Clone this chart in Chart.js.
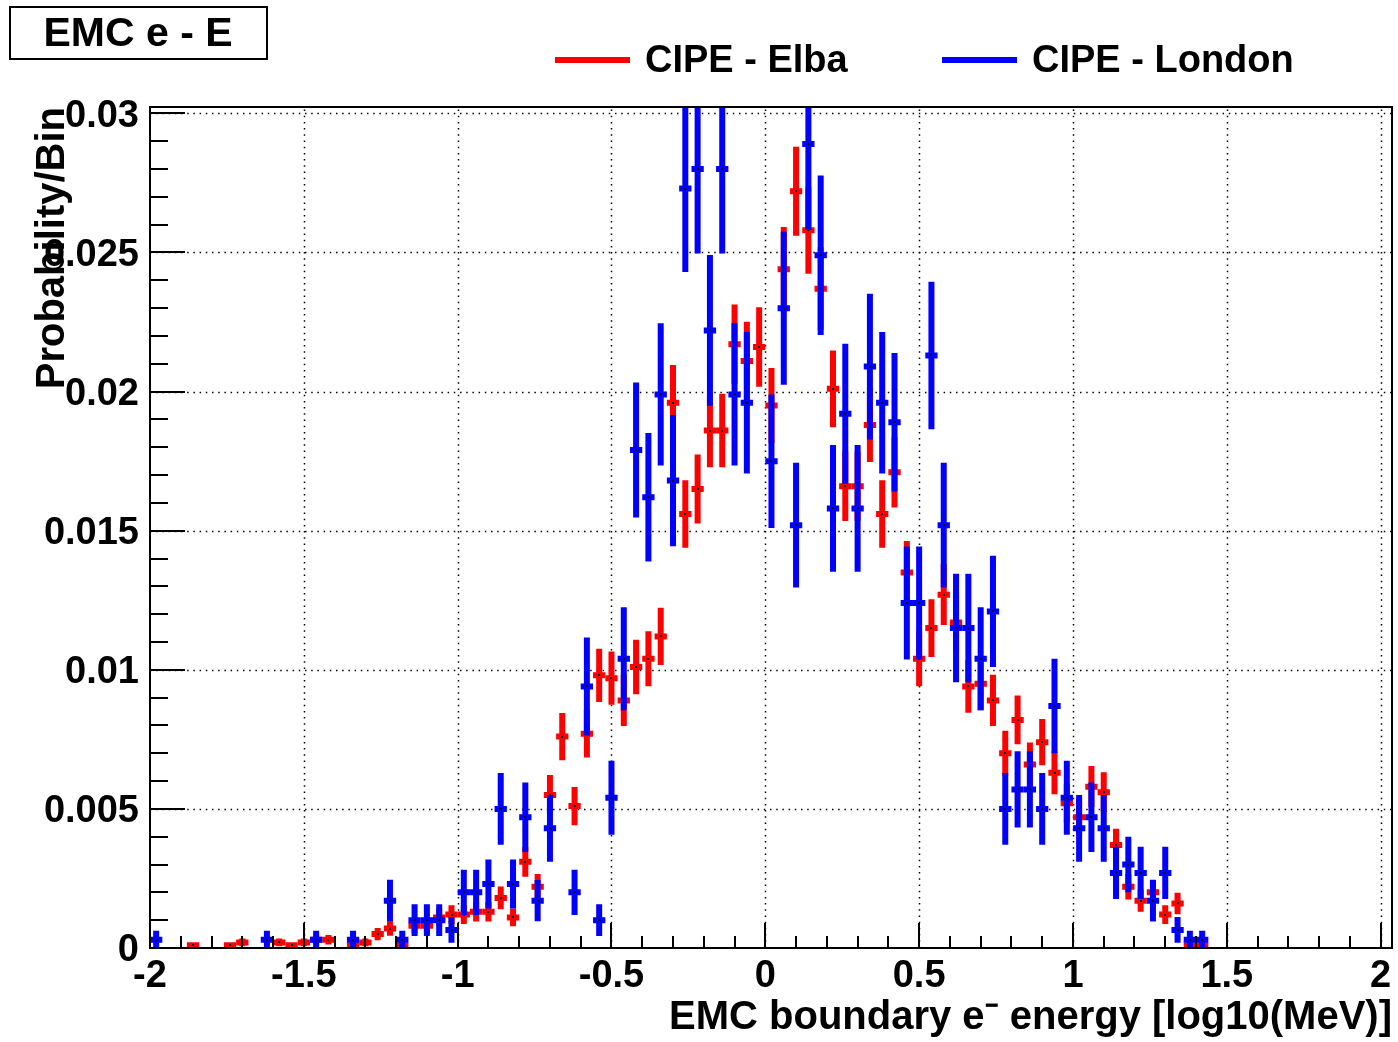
<!DOCTYPE html>
<html>
<head>
<meta charset="utf-8">
<script src="https://cdn.jsdelivr.net/npm/chart.js@4.4.1/dist/chart.umd.min.js"></script>
<style>
html,body{margin:0;padding:0;background:#ffffff;}
#wrap{width:1398px;height:1042px;}
</style>
</head>
<body>
<div id="wrap"><canvas id="c" width="1398" height="1042"></canvas></div>
<script>
// ---- categories: bin centres (100 bins of width 0.04 from -2 to 2) ----
const binCenters = [
-1.98,-1.94,-1.90,-1.86,-1.82,-1.78,-1.74,-1.70,-1.66,-1.62,
-1.58,-1.54,-1.50,-1.46,-1.42,-1.38,-1.34,-1.30,-1.26,-1.22,
-1.18,-1.14,-1.10,-1.06,-1.02,-0.98,-0.94,-0.90,-0.86,-0.82,
-0.78,-0.74,-0.70,-0.66,-0.62,-0.58,-0.54,-0.50,-0.46,-0.42,
-0.38,-0.34,-0.30,-0.26,-0.22,-0.18,-0.14,-0.10,-0.06,-0.02,
0.02,0.06,0.10,0.14,0.18,0.22,0.26,0.30,0.34,0.38,
0.42,0.46,0.50,0.54,0.58,0.62,0.66,0.70,0.74,0.78,
0.82,0.86,0.90,0.94,0.98,1.02,1.06,1.10,1.14,1.18,
1.22,1.26,1.30,1.34,1.38,1.42,1.46,1.50,1.54,1.58,
1.62,1.66,1.70,1.74,1.78,1.82,1.86,1.90,1.94,1.98];
const binHalfWidth = 0.02;

// ---- series: CIPE - Elba ----
const elbaValues = [
null,null,null,0.0001,null,null,0.0001,0.0002,null,null,
0.0002,0.0001,0.0002,0.0003,0.0003,null,0.0001,0.0002,0.0005,0.0007,
0.0001,0.0008,0.0008,0.0011,0.0012,0.0012,0.0013,0.0013,0.0018,0.0011,
0.0031,0.0022,0.0055,0.0076,0.0051,0.0077,0.0098,0.0097,0.0089,0.0101,
0.0104,0.0112,0.0196,0.0156,0.0165,0.0186,0.0186,0.0217,0.0211,0.0216,
0.0195,0.0244,0.0272,0.0258,0.0237,0.0201,0.0166,0.0166,0.0188,0.0156,
0.0171,0.0135,0.0104,0.0115,0.0127,0.0117,0.0094,0.0095,0.0089,0.0070,
0.0082,0.0066,0.0074,0.0063,0.0052,0.0047,0.0058,0.0056,0.0037,0.0022,
0.0017,0.0020,0.0012,0.0016,0.0001,0.0001,null,null,null,null,
null,null,null,null,null,null,null,null,null,null];
const elbaErrors = [
null,null,null,0.0001,null,null,0.0001,0.00014,null,null,
0.00014,0.0001,0.00014,0.00017,0.00017,null,0.0001,0.00014,0.00022,0.00026,
0.0001,0.00027,0.00027,0.00032,0.00034,0.00034,0.00035,0.00035,0.00041,0.00032,
0.00054,0.00046,0.00072,0.00085,0.00069,0.00085,0.00096,0.00096,0.00092,0.00098,
0.00099,0.00103,0.00136,0.00121,0.00124,0.00132,0.00132,0.00143,0.00141,0.00143,
0.00135,0.00152,0.0016,0.00156,0.00149,0.00138,0.00125,0.00125,0.00133,0.00121,
0.00127,0.00113,0.00099,0.00104,0.00109,0.00105,0.00094,0.00095,0.00092,0.00081,
0.00088,0.00079,0.00083,0.00077,0.0007,0.00066,0.00074,0.00072,0.00059,0.00046,
0.0004,0.00044,0.00034,0.00039,0.0001,0.0001,null,null,null,null,
null,null,null,null,null,null,null,null,null,null];

// ---- series: CIPE - London ----
const londonValues = [
0.0003,null,null,null,null,null,null,null,null,0.0003,
null,null,null,0.0003,null,null,0.0003,null,null,0.0017,
0.0003,0.0010,0.0010,0.0010,0.00065,0.0020,0.0020,0.0023,0.0050,0.0023,
0.0047,0.0017,0.0043,null,0.0020,0.0094,0.0010,0.0054,0.0104,0.0179,
0.0162,0.0199,0.0168,0.0273,0.0280,0.0222,0.0280,0.0199,0.0196,null,
0.0175,0.0230,0.0152,0.0289,0.0249,0.0158,0.0192,0.0158,0.0209,0.0196,
0.0189,0.0124,0.0124,0.0213,0.0152,0.0115,0.0115,0.0104,0.0121,0.0050,
0.0057,0.0057,0.0050,0.0087,0.0054,0.0043,0.0047,0.0043,0.0027,0.0030,
0.0027,0.0017,0.0027,0.00065,0.0003,0.0003,null,null,null,null,
null,null,null,null,null,null,null,null,null,null];
const londonErrors = [
0.00032,null,null,null,null,null,null,null,null,0.00032,
null,null,null,0.00032,null,null,0.00032,null,null,0.00075,
0.00032,0.00057,0.00057,0.00057,0.00046,0.00081,0.00081,0.00088,0.00129,0.00088,
0.00125,0.00074,0.0012,null,0.00081,0.00176,0.00057,0.00133,0.00185,0.00243,
0.00231,0.00256,0.00236,0.003,0.00304,0.00271,0.00304,0.00256,0.00254,null,
0.0024,0.00275,0.00224,0.00309,0.00287,0.00228,0.00252,0.00228,0.00262,0.00254,
0.00249,0.00203,0.00203,0.00265,0.00224,0.00195,0.00195,0.00185,0.002,0.00129,
0.00137,0.00137,0.00129,0.0017,0.00133,0.0012,0.00125,0.0012,0.00094,0.001,
0.00094,0.00075,0.00094,0.00046,0.00032,0.00032,null,null,null,null,
null,null,null,null,null,null,null,null,null,null];

// ---- tick labels ----
const xTickValues = [-2,-1.5,-1,-0.5,0,0.5,1,1.5,2];
const xTickLabels = ['-2','-1.5','-1','-0.5','0','0.5','1','1.5','2'];
const yTickValues = [0,0.005,0.01,0.015,0.02,0.025,0.03];
const yTickLabels = ['0','0.005','0.01','0.015','0.02','0.025','0.03'];
const xMinorTicks = [];
for (let k = -20; k <= 20; k++) xMinorTicks.push(k / 10);
const yMinorTicks = [];
for (let k = 0; k <= 30; k++) yMinorTicks.push(k / 1000);

const plotTitle = 'EMC e - E';
const xTitle = 'EMC boundary e\u207B energy [log10(MeV)]';
const yTitle = 'Probability/Bin';

function toPoints(vals, errs) {
  const pts = [];
  binCenters.forEach((x, i) => {
    if (vals[i] !== null) pts.push({x: x, y: vals[i], err: errs[i]});
  });
  return pts;
}

const FONT = '"Liberation Sans", Arial, Helvetica, sans-serif';

const rootStyle = {
  id: 'rootStyle',
  beforeDatasetsDraw(chart) {
    const {ctx, chartArea: a, scales: {x, y}} = chart;
    ctx.save();
    ctx.strokeStyle = '#000';
    ctx.lineWidth = 1.5;
    ctx.setLineDash([1.5, 4.7]);
    xTickValues.forEach(v => {
      const px = Math.round(x.getPixelForValue(v)) + 0.5;
      if (px <= a.left + 1) return;
      ctx.beginPath(); ctx.moveTo(px, a.bottom); ctx.lineTo(px, a.top); ctx.stroke();
    });
    yTickValues.forEach(v => {
      const py = Math.round(y.getPixelForValue(v)) + 0.5;
      if (py >= a.bottom - 1) return;
      ctx.beginPath(); ctx.moveTo(a.left, py); ctx.lineTo(a.right, py); ctx.stroke();
    });
    ctx.restore();
  },
  afterDatasetsDraw(chart) {
    const {ctx, chartArea: a, scales: {x, y}} = chart;
    ctx.save();
    ctx.beginPath();
    ctx.rect(a.left, a.top, a.right - a.left, a.bottom - a.top);
    ctx.clip();
    chart.data.datasets.forEach(ds => {
      ctx.strokeStyle = ds.borderColor;
      ctx.lineWidth = 6;
      ctx.lineCap = 'butt';
      ds.data.forEach(p => {
        const px = x.getPixelForValue(p.x);
        const py = y.getPixelForValue(p.y);
        const top = y.getPixelForValue(p.y + p.err);
        const bot = y.getPixelForValue(p.y - p.err);
        const xl = x.getPixelForValue(p.x - binHalfWidth);
        const xr = x.getPixelForValue(p.x + binHalfWidth);
        ctx.beginPath();
        ctx.moveTo(px, bot); ctx.lineTo(px, top);
        ctx.moveTo(xl, py); ctx.lineTo(xr, py);
        ctx.stroke();
      });
      ctx.fillStyle = '#000';
      ds.data.forEach(p => {
        const px = x.getPixelForValue(p.x);
        const py = y.getPixelForValue(p.y);
        ctx.fillRect(Math.round(px) - 1, Math.round(py) - 1, 2, 2);
      });
    });
    ctx.restore();

    // ticks and frame
    ctx.save();
    ctx.strokeStyle = '#000';
    ctx.lineWidth = 2;
    xMinorTicks.forEach(v => {
      const px = Math.round(x.getPixelForValue(v));
      const major = xTickValues.some(t => Math.abs(t - v) < 1e-9);
      const len = major ? 25 : 12;
      ctx.beginPath(); ctx.moveTo(px, a.bottom); ctx.lineTo(px, a.bottom - len); ctx.stroke();
    });
    yMinorTicks.forEach(v => {
      const py = Math.round(y.getPixelForValue(v));
      const major = yTickValues.some(t => Math.abs(t - v) < 1e-9);
      const len = major ? 35 : 18;
      ctx.beginPath(); ctx.moveTo(a.left, py); ctx.lineTo(a.left + len, py); ctx.stroke();
    });
    ctx.strokeRect(a.left, a.top, a.right - a.left, a.bottom - a.top);
    ctx.restore();
  },
  afterDraw(chart) {
    const {ctx} = chart;
    ctx.save();
    // title box
    ctx.fillStyle = '#fff';
    ctx.fillRect(10, 7, 257, 52);
    ctx.strokeStyle = '#000';
    ctx.lineWidth = 2;
    ctx.strokeRect(10, 7, 257, 52);
    ctx.fillStyle = '#000';
    ctx.font = 'bold 41px ' + FONT;
    ctx.textAlign = 'center';
    ctx.textBaseline = 'middle';
    ctx.fillText(plotTitle, 138, 35);
    // legend
    const legendX = [555, 942];
    ctx.font = 'bold 38px ' + FONT;
    ctx.textAlign = 'left';
    chart.data.datasets.forEach((ds, i) => {
      const lx = legendX[i];
      ctx.strokeStyle = ds.borderColor;
      ctx.lineWidth = 6;
      ctx.beginPath(); ctx.moveTo(lx, 60); ctx.lineTo(lx + 75, 60); ctx.stroke();
      ctx.fillStyle = '#000';
      ctx.fillText(ds.label, lx + 90, 62);
    });
    ctx.restore();
  }
};

new Chart(document.getElementById('c'), {
  type: 'scatter',
  data: {
    datasets: [
      {label: 'CIPE - Elba', data: toPoints(elbaValues, elbaErrors), borderColor: '#ff0000', backgroundColor: '#ff0000', pointRadius: 0, showLine: false},
      {label: 'CIPE - London', data: toPoints(londonValues, londonErrors), borderColor: '#0000ff', backgroundColor: '#0000ff', pointRadius: 0, showLine: false}
    ]
  },
  options: {
    responsive: false,
    animation: false,
    devicePixelRatio: 1,
    layout: {padding: {left: 0, right: 6, top: 107, bottom: 0}},
    plugins: {legend: {display: false}, tooltip: {enabled: false}},
    scales: {
      x: {
        type: 'linear', min: -2, max: 2.037,
        afterBuildTicks: s => { s.ticks = xTickValues.map(v => ({value: v})); },
        afterFit: s => { s.height = 94; },
        grid: {display: false}, border: {display: false},
        ticks: {autoSkip: false, maxRotation: 0, padding: -2, color: '#000',
          font: {family: FONT, weight: 'bold', size: 38},
          callback: (v, i) => xTickLabels[i]},
        title: {display: true, text: xTitle, align: 'end', color: '#000',
          font: {family: FONT, weight: 'bold', size: 40}, padding: {top: 0, bottom: 0}}
      },
      y: {
        type: 'linear', min: 0, max: 0.03023,
        afterBuildTicks: s => { s.ticks = yTickValues.map(v => ({value: v})); },
        afterFit: s => { s.width = 150; },
        grid: {display: false}, border: {display: false},
        ticks: {autoSkip: false, padding: 3, labelOffset: 3, color: '#000',
          font: {family: FONT, weight: 'bold', size: 38},
          callback: (v, i) => yTickLabels[i]},
        title: {display: true, text: yTitle, align: 'end', color: '#000',
          font: {family: FONT, weight: 'bold', size: 40}, padding: {top: 29, bottom: 0}}
      }
    }
  },
  plugins: [rootStyle]
});
</script>
</body>
</html>
